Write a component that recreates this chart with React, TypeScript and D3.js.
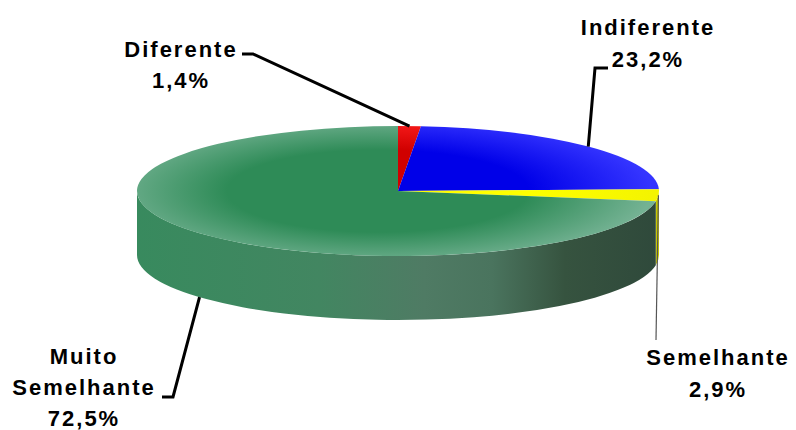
import React from "react";
import * as d3 from "d3";

// Slice data, clockwise from 12 o'clock
const categories = ["Diferente", "Indiferente", "Semelhante", "Muito Semelhante"];
const percents = [1.4, 23.2, 2.9, 72.5];
const labelLines = [["Diferente"], ["Indiferente"], ["Semelhante"], ["Muito", "Semelhante"]];
const baseColors = ["#d00000", "#0000e8", "#ffff00", "#2e8b57"];
const rimColors = ["#ff2020", "#3535ff", "#f4f400", "#74b293"];
const sideLeftColors = ["#b00000", "#0000b0", "#e8e800", "#388a5e"];
const sideRightColors = ["#800000", "#000080", "#c8c800", "#2f493b"];

const W = 796;
const H = 430;
const cx = 398;
const cy = 191;
const rx = 261;
const ry = 65;
const depth = 64;

// Label layout: text center, first baseline, line step, leader elbow/end points
const labelLayout = [
  { tx: 181, ty: 57, step: 31, anchorDy: 0, path: [[253, 54], [242, 54]], thin: false },
  { tx: 648, ty: 35, step: 32, anchorDy: 0, path: [[595, 68], [608, 68]], thin: false },
  { tx: 718, ty: 365, step: 32, anchorDy: 0, path: [[656, 340]], thin: true },
  { tx: 84, ty: 364, step: 31, anchorDy: depth, path: [[173, 397], [162, 397]], thin: false },
];

const fmt = (v: number) => d3.format(".1f")(v).replace(".", ",") + "%";

function pt(a: number, dy = 0): [number, number] {
  return [cx + rx * Math.sin(a), cy - ry * Math.cos(a) + dy];
}

function topPath(a0: number, a1: number) {
  const p0 = pt(a0);
  const p1 = pt(a1);
  const large = a1 - a0 > Math.PI ? 1 : 0;
  return `M${cx},${cy}L${p0[0]},${p0[1]}A${rx},${ry} 0 ${large} 1 ${p1[0]},${p1[1]}Z`;
}

function sidePath(a0: number, a1: number) {
  const s = Math.max(a0, Math.PI / 2);
  const e = Math.min(a1, (3 * Math.PI) / 2);
  if (e <= s) return null;
  const t0 = pt(s);
  const t1 = pt(e);
  const b0 = pt(s, depth);
  const b1 = pt(e, depth);
  return `M${t0[0]},${t0[1]}A${rx},${ry} 0 0 1 ${t1[0]},${t1[1]}L${b1[0]},${b1[1]}A${rx},${ry} 0 0 0 ${b0[0]},${b0[1]}Z`;
}

export default function App() {
  const arcs = d3
    .pie<number>()
    .sort(null)
    .value((d) => d)(percents);

  const font = "'Liberation Sans', Arial, Helvetica, sans-serif";

  return (
    <svg
      width={W}
      height={H}
      style={{ position: "absolute", left: 0, top: 0, background: "#fff" }}
    >
      <defs>
        {baseColors.map((c, i) => (
          <radialGradient
            key={"t" + i}
            id={"top" + i}
            gradientUnits="userSpaceOnUse"
            cx={cx - 20}
            cy={cy}
            r={rx}
            gradientTransform={`translate(${cx - 20},${cy}) scale(1.05,${(ry * 1.15) / rx}) translate(${-(cx - 20)},${-cy})`}
          >
            <stop offset="0" stopColor={c} />
            <stop offset="0.55" stopColor={c} />
            <stop offset="1" stopColor={rimColors[i]} />
          </radialGradient>
        ))}
        {baseColors.map((c, i) => (
          <linearGradient
            key={"s" + i}
            id={"side" + i}
            gradientUnits="userSpaceOnUse"
            x1={cx - rx}
            y1={0}
            x2={cx + rx}
            y2={0}
          >
            <stop offset="0" stopColor={sideLeftColors[i]} />
            <stop offset="0.35" stopColor={d3.interpolateRgb(sideLeftColors[i], "#5a7d68")(i === 3 ? 0.3 : 0)} />
            <stop offset="0.55" stopColor={i === 3 ? "#4f7b64" : sideLeftColors[i]} />
            <stop offset="0.68" stopColor={i === 3 ? "#4a745e" : sideLeftColors[i]} />
            <stop offset="0.82" stopColor={i === 3 ? "#36533f" : sideRightColors[i]} />
            <stop offset="1" stopColor={sideRightColors[i]} />
          </linearGradient>
        ))}
      </defs>

      {/* outer wall of the front half */}
      {arcs.map((a, i) => {
        const d = sidePath(a.startAngle, a.endAngle);
        return d ? <path key={"side" + i} d={d} fill={`url(#side${i})`} /> : null;
      })}

      {/* top faces */}
      {arcs.map((a, i) => (
        <path key={"top" + i} d={topPath(a.startAngle, a.endAngle)} fill={`url(#top${i})`} />
      ))}

      {/* leader lines */}
      {arcs.map((a, i) => {
        const L = labelLayout[i];
        const mid = (a.startAngle + a.endAngle) / 2;
        const start = pt(mid, L.anchorDy);
        const pts = [start, ...L.path];
        return (
          <path
            key={"lead" + i}
            d={d3.line()(pts as [number, number][]) || ""}
            fill="none"
            stroke={L.thin ? "#555" : "#000"}
            strokeWidth={L.thin ? 1.2 : 3}
          />
        );
      })}

      {/* labels */}
      {categories.map((c, i) => {
        const L = labelLayout[i];
        const lines = [...labelLines[i], fmt(percents[i])];
        return (
          <text
            key={"lab" + c}
            x={L.tx}
            y={L.ty}
            textAnchor="middle"
            fontFamily={font}
            fontWeight="bold"
            fontSize={22}
            letterSpacing={2}
            fill="#000"
          >
            {lines.map((t, j) => (
              <tspan key={j} x={L.tx} dy={j === 0 ? 0 : L.step}>
                {t}
              </tspan>
            ))}
          </text>
        );
      })}
    </svg>
  );
}
